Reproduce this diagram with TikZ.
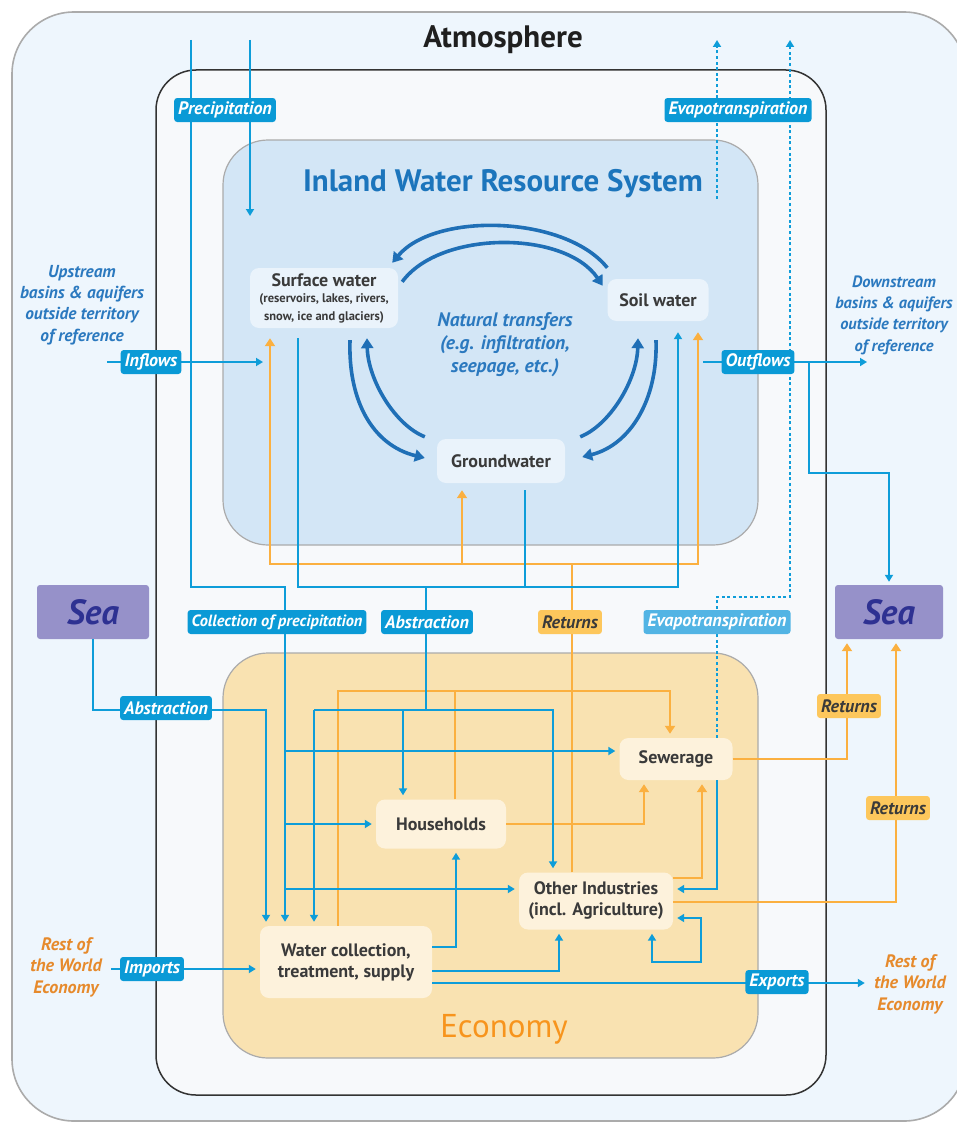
\documentclass[tikz,border=0pt]{standalone}
\usepackage{fontspec}
\setmainfont{PT Sans}
\usetikzlibrary{arrows.meta,calc}
\definecolor{cBlue}{HTML}{0E9DD9}
\definecolor{cTag}{HTML}{0A9AD6}
\definecolor{cTagL}{HTML}{52B4E4}
\definecolor{cOr}{HTML}{FBB040}
\definecolor{cOrTag}{HTML}{FDC75C}
\definecolor{cNat}{HTML}{1F6FB6}
\definecolor{cAtmo}{HTML}{EEF6FD}
\definecolor{cInner}{HTML}{F7F9FB}
\definecolor{cInland}{HTML}{D3E6F6}
\definecolor{cEcon}{HTML}{F9E2B1}
\definecolor{cNodeB}{HTML}{EAF3FB}
\definecolor{cNodeE}{HTML}{FDF2DC}
\definecolor{cSea}{HTML}{9691C9}
\definecolor{cSeaTxt}{HTML}{2E3192}
\definecolor{cTitleB}{HTML}{1C75BC}
\definecolor{cTitleO}{HTML}{F7941D}
\definecolor{cItalB}{HTML}{2B79BF}
\definecolor{cItalO}{HTML}{E68A2C}
\definecolor{cTxt}{HTML}{3A3A3A}
\definecolor{cFrame}{HTML}{ABABAB}
\begin{document}
\begin{tikzpicture}[x=1pt,y=-1pt,line join=miter,
  tip/.style={-{Triangle[width=8pt,length=7pt]},shorten >=4pt},
  tipO/.style={-{Triangle[width=10pt,length=8pt]},shorten >=4pt},
  tipD/.style={-{Triangle[width=8pt,length=7pt]}},
  bl/.style={draw=cBlue,line width=2.1pt},
  orl/.style={draw=cOr,line width=2.8pt},
  dotl/.style={draw=cBlue,line width=2.5pt,dash pattern=on 3pt off 2.6pt},
  nat/.style={draw=cNat,line width=3.6pt,-{Triangle[width=12pt,length=10pt]}},
  tagb/.style={fill=cTag,rounded corners=3pt,text=white,font=\fontsize{18}{20}\selectfont\bfseries\itshape,inner ysep=0pt,inner xsep=4pt,minimum height=24pt},
  tago/.style={tagb,fill=cOrTag,text=cTxt},
  ibox/.style={fill=cNodeB,rounded corners=9pt,text=cTxt,inner sep=0pt,align=center,font=\fontsize{18}{21}\selectfont\bfseries},
  ebox/.style={ibox,fill=cNodeE},
  seabox/.style={fill=cSea,rounded corners=3pt,inner sep=0pt,minimum height=54pt,text=cSeaTxt,font=\fontsize{35}{36}\selectfont\bfseries\itshape},
  itb/.style={align=center,text=cItalB,font=\fontsize{17.3}{21.3}\selectfont\bfseries\itshape},
  ito/.style={align=center,text=cItalO,font=\fontsize{18}{21.5}\selectfont\bfseries\itshape}]
\useasboundingbox (0,0) rectangle (957,1124);
\fill[white] (0,0) rectangle (957,1124);
\clip (0,0) rectangle (957,1124);
% frames
\draw[fill=cAtmo,draw=cFrame,line width=1.6pt,rounded corners=62pt] (12,12) rectangle (966,1121);
\draw[fill=cInner,draw=black!80,line width=1.5pt,rounded corners=40pt] (156,70) rectangle (826,1095);
\draw[fill=cInland,draw=cFrame,line width=1.2pt,rounded corners=45pt] (223,140) rectangle (758,545);
\draw[fill=cEcon,draw=cFrame,line width=1.2pt,rounded corners=45pt] (223,653) rectangle (758,1058);
% titles
\node[font=\fontsize{31}{34}\selectfont\bfseries,text=black!88] (atmo) at (503,40) {Atmosphere};
\node[font=\fontsize{31}{34}\selectfont\bfseries,text=cTitleB] (iwrs) at (503,184) {Inland Water Resource System};
\node[font=\fontsize{33}{36}\selectfont,text=cTitleO] (econ) at (504,1029) {Economy};
% nodes
\node[ibox,minimum width=148pt,minimum height=60pt] (surf) at (324,298) {Surface water\\[-5pt]{\fontsize{12.5}{15}\selectfont (reservoirs, lakes, rivers,}\\[-3pt]{\fontsize{12.5}{15}\selectfont snow, ice and glaciers)}};
\node[ibox,minimum width=101pt,minimum height=42pt] (soil) at (658,300) {Soil water};
\node[ibox,minimum width=128pt,minimum height=44pt] (ground) at (501,461) {Groundwater};
\node[ebox,minimum width=113pt,minimum height=42pt] (sewer) at (676,759) {Sewerage};
\node[ebox,minimum width=130pt,minimum height=49pt] (house) at (441,824) {Households};
\node[ebox,minimum width=154pt,minimum height=57pt] (ind) at (596,901) {Other Industries\\(incl. Agriculture)};
\node[ebox,minimum width=172pt,minimum height=72pt] (wcs) at (346,962) {Water collection,\\treatment, supply};
\node[seabox,minimum width=112pt] (seaL) at (93,612) {Sea};
\node[seabox,minimum width=108pt] (seaR) at (889,612) {Sea};
\node[font=\fontsize{19.5}{23}\selectfont\bfseries\itshape,text=cItalB,align=center] (nattxt) at (505,345) {Natural transfers\\(e.g. infiltration,\\seepage, etc.)};
\node[itb] (up) at (82,305) {Upstream\\basins \& aquifers\\outside territory\\of reference};
\node[itb,font=\fontsize{16.4}{21.3}\selectfont\bfseries\itshape] (down) at (894,315) {Downstream\\basins \& aquifers\\outside territory\\of reference};
\node[ito] (restL) at (66,967) {Rest of\\the World\\Economy};
\node[ito] (restR) at (910,984) {Rest of\\the World\\Economy};
% helper coordinates
\coordinate (surfB) at ([yshift=-10pt]surf.south);
\coordinate (soilB) at ([yshift=-11pt]soil.south);
\coordinate (gndB) at ([yshift=-7pt]ground.south);
\coordinate (pA) at (191,40);
\coordinate (pB) at (250,40);
\coordinate (pBend) at (250,220);
\coordinate (evA) at (717,199);
\coordinate (evAend) at (717,40);
\coordinate (evBend) at (790,40);
\coordinate (inS) at (107,362);
\coordinate (inE) at (263,362);
\coordinate (outS) at (703,362);
\coordinate (outE) at (867,362);
% natural transfers
\draw[nat] ($(soil.north west)+(0,-11)$) .. controls (565,215) and (435,212) .. ($(surf.north east)+(-6,-5)$);
\draw[nat] ($(surf.north east)+(4,14)$) .. controls (440,230) and (565,230) .. ($(soil.north west)+(-4.5,7)$);
\draw[nat] ($(surf.south)+(26,12)$) .. controls (348,400) and (372,445) .. ($(ground.west)+(-12,-3)$);
\draw[nat] ($(ground.north west)+(-12,-2)$) .. controls (395,425) and (368,380) .. ($(surf.south)+(43,10)$);
\draw[nat] ($(ground.north east)+(15,-2)$) .. controls (610,425) and (637,380) .. ($(soil.south)+(-20,17)$);
\draw[nat] ($(soil.south)+(-2,19)$) .. controls (658,400) and (630,445) .. ($(ground.east)+(17,-4)$);
% dotted evapotranspiration
\draw[dotl,tipD] (evA) -- (evAend);
\draw[dotl,tipD] (717,0 |- sewer.north) |- (790,597) -- (evBend);
% orange returns
\draw[orl] (572,0 |- ind.north) -- (572,564);
\draw[orl,tipO,shorten >=0pt] (698,564) -| (270,0 |- surfB);
\draw[orl,tipO,shorten >=0pt] (270,564) -| (698,0 |- soilB);
\draw[orl,tipO,shorten >=0pt] (462,564) -- (462,0 |- gndB);
\draw[orl,tipO] (338,0 |- wcs.north) |- (670,691) -- (670,0 |- sewer.north);
\draw[orl] (455,0 |- house.north) -- (455,691);
\draw[orl,tipO] (house.east) -| (644,0 |- sewer.south);
\draw[orl,tipO] (ind.east |- 0,878) -| (702,0 |- sewer.south);
\draw[orl,tipO] (ind.east |- 0,902) -| (896,0 |- seaR.south);
\draw[orl,tipO] (sewer.east) -| (847,0 |- seaR.south);
% blue flows
\draw[bl,tip] (pB) -- (pBend);
\draw[bl,tip] (pA) |- (285,587) -- (285,0 |- wcs.north);
\draw[bl,tip,shorten >=0pt] (298,0 |- surfB) |- (678,587) -- (678,0 |- soilB);
\draw[bl] (525,0 |- gndB) -- (525,587);
\draw[bl] (426,587) -- (426,710);
\draw[bl,tip] (314,710) -- (314,0 |- wcs.north);
\draw[bl,tip] (314,710) -| (553,0 |- ind.north);
\draw[bl,tip] (403,710) -- (403,0 |- house.north);
\draw[bl,tip] (seaL.south) |- (266,710) -- (266,0 |- wcs.north);
\draw[bl,tip] (285,751) -- (sewer.west |- 0,751);
\draw[bl,tip] (285,0 |- house.west) -- (house.west);
\draw[bl,tip] (285,889) -- (ind.west |- 0,889);
\draw[bl,tip] (wcs.east |- 0,947) -| (456,0 |- house.south);
\draw[bl,tip] (wcs.east |- 0,971) -| (559,0 |- ind.south);
\draw[bl,tip,shorten >=6pt] (wcs.east |- 0,983) -- (restR.west |- 0,983);
\draw[bl,tip,shorten <=6pt] (restL.east |- 0,969) -- (wcs.west |- 0,969);
\draw[bl,tip] (717,0 |- sewer.south) |- (ind.east |- 0,889);
\draw[bl,{Triangle[width=8pt,length=7pt]}-{Triangle[width=8pt,length=7pt]},shorten <=4pt,shorten >=4pt] (ind.east |- 0,918) -| (701,962) -| (652,0 |- ind.south);
\draw[bl,tip,shorten >=0pt] (inS) -- (inE);
\draw[bl,tip,shorten >=0pt] (outS) -- (outE);
\draw[bl,tip,shorten >=3pt] (809,362) |- (889,473) -- (889,0 |- seaR.north);
% tags
\node[tagb] (tPrec) at (225,110) {Precipitation};
\node[tagb] (tEvap) at (738,110) {Evapotranspiration};
\node[tagb] (tIn) at (151,362) {Inflows};
\node[tagb] (tOut) at (758,362) {Outflows};
\node[tagb,font=\fontsize{16.3}{20}\selectfont\bfseries\itshape] (tColl) at (277,622) {Collection of precipitation};
\node[tagb] (tAbs) at (427,622) {Abstraction};
\node[tago] (tRet) at (570,622) {Returns};
\node[tagb,fill=cTagL] (tEvap2) at (717,622) {Evapotranspiration};
\node[tagb] (tAbs2) at (166,708) {Abstraction};
\node[tago] (tRet2) at (849,706) {Returns};
\node[tago] (tRet3) at (898,808) {Returns};
\node[tagb] (tImp) at (152,969) {Imports};
\node[tagb] (tExp) at (777,982) {Exports};
\end{tikzpicture}
\end{document}
